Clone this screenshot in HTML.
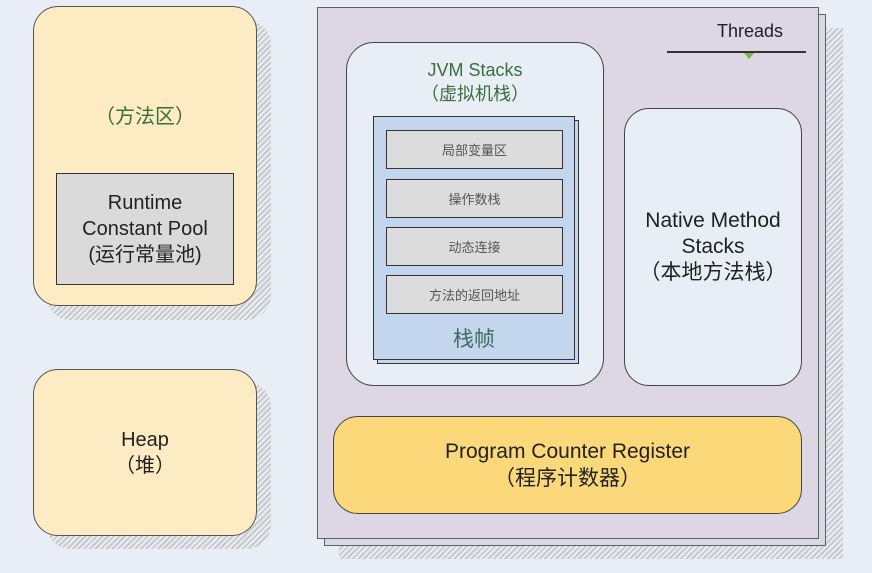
<!DOCTYPE html>
<html><head><meta charset="utf-8"><style>
body{margin:0;width:872px;height:573px;background:#e9eef6;position:relative;overflow:hidden;font-family:"Liberation Sans","Noto Sans CJK SC",sans-serif}
div{position:absolute;box-sizing:border-box}
.hatch{background:repeating-linear-gradient(135deg,#c9c9c9 0 2px,#e9eef6 2px 4px)}
.c{display:flex;align-items:center;justify-content:center;text-align:center;flex-direction:column}
.row{left:386px;width:177px;height:39px;background:#dcdcdc;border:1.5px solid #333;font-size:13px;color:#555}
</style></head><body>
<!-- method area -->
<div class="hatch" style="left:46px;top:20px;width:225px;height:300px;border-radius:25px"></div>
<div style="left:33px;top:6px;width:224px;height:300px;background:#fcebc3;border:1.5px solid #555;border-radius:25px"></div>
<div style="left:33px;top:100px;width:224px;text-align:center;font-size:20px;color:#3a6e3a">（方法区）</div>
<div class="c" style="left:56px;top:173px;width:178px;height:112px;background:#dadada;border:1.5px solid #333;font-size:20px;color:#222;line-height:26px">Runtime<br>Constant Pool<br>(运行常量池)</div>
<!-- heap -->
<div class="hatch" style="left:46px;top:382px;width:225px;height:167px;border-radius:25px"></div>
<div class="c" style="left:33px;top:369px;width:224px;height:167px;background:#fcebc3;border:1.5px solid #555;border-radius:25px;font-size:20px;color:#222;line-height:26px">Heap<br>（堆）</div>
<!-- threads -->
<div class="hatch" style="left:339px;top:28px;width:504px;height:531px"></div>
<div style="left:324px;top:14px;width:502px;height:532px;background:#ddd6e4;border:1.5px solid #4a6a60"></div>
<div style="left:317px;top:7px;width:502px;height:532px;background:#ddd6e4;border:1.5px solid #4a6a60"></div>
<div style="left:700px;top:21px;width:100px;text-align:center;font-size:18px;color:#222">Threads</div>
<div style="left:667px;top:51px;width:139px;height:1.5px;background:#333"></div>
<div style="left:744px;top:53px;width:0;height:0;border-left:5px solid transparent;border-right:5px solid transparent;border-top:6px solid #7bb34a"></div>
<!-- JVM stacks -->
<div style="left:346px;top:42px;width:258px;height:344px;background:#e9eef6;border:1.5px solid #444;border-radius:28px"></div>
<div style="left:346px;top:58px;width:258px;text-align:center;font-size:18px;color:#3a6e3a;line-height:24px">JVM Stacks<br>（虚拟机栈）</div>
<div style="left:377px;top:120px;width:202px;height:244px;background:#c4d6ee;border:1.5px solid #333"></div>
<div style="left:373px;top:116px;width:202px;height:244px;background:#c4d6ee;border:1.5px solid #333"></div>
<div class="row c" style="top:130px">局部变量区</div>
<div class="row c" style="top:179px">操作数栈</div>
<div class="row c" style="top:227px">动态连接</div>
<div class="row c" style="top:275px">方法的返回地址</div>
<div style="left:373px;top:323px;width:202px;text-align:center;font-size:21px;color:#3a6e5a">栈帧</div>
<!-- native -->
<div class="c" style="left:624px;top:108px;width:178px;height:278px;background:#e9eef6;border:1.5px solid #444;border-radius:25px;font-size:21px;color:#222;line-height:26px">Native Method<br>Stacks<br>（本地方法栈）</div>
<!-- PC -->
<div class="c" style="left:333px;top:416px;width:469px;height:98px;background:#fbd97a;border:1.5px solid #444;border-radius:25px;font-size:21px;color:#222;line-height:27px">Program Counter Register<br>（程序计数器）</div>
</body></html>
